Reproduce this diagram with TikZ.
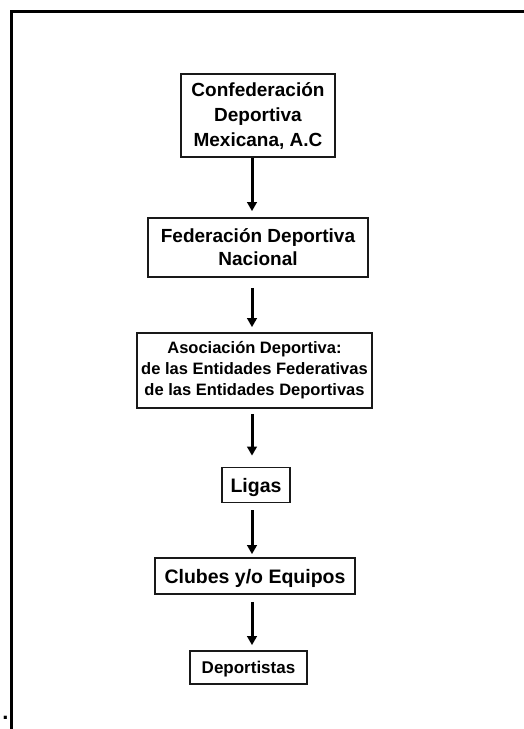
\documentclass[tikz,border=0pt]{standalone}
\usepackage{fontspec}
\setmainfont{Liberation Sans}
\usetikzlibrary{arrows.meta}
\tikzset{
  orgbox/.style={draw=black!90, line width=1.7pt, align=center, inner sep=0pt, font=\bfseries},
  onel/.style={text depth=0pt},
  arr/.style={line width=3pt, -{Triangle[length=9pt,width=9.5pt]}},
  frame/.style={line width=3.2pt, line join=miter}
}
\begin{document}
\begin{tikzpicture}[x=1pt,y=-1pt]
\useasboundingbox (0,0) rectangle (524,729);
\draw[frame] (11.3,729) -- (11.3,11.5) -- (524,11.5);
\node[font=\bfseries\fontsize{22}{22}\selectfont, inner sep=0pt] (dot) at (5.5,718) {.};
\coordinate (axis) at (252,0);
\node[orgbox, minimum width=154pt, minimum height=83pt, font=\bfseries\fontsize{19}{25}\selectfont] (b1) at (258,115.5) {Confederación\\Deportiva\\Mexicana, A.C};
\node[orgbox, minimum width=220pt, minimum height=59pt, font=\bfseries\fontsize{19}{23}\selectfont] (b2) at (258,247.5) {Federación Deportiva\\Nacional};
\node[orgbox, minimum width=235pt, minimum height=75pt, font=\bfseries\fontsize{16.5}{21}\selectfont] (b3) at (254.5,370.5) {Asociación Deportiva:\\de las Entidades Federativas\\de las Entidades Deportivas};
\node[orgbox, onel, minimum width=68pt, minimum height=35pt, font=\bfseries\fontsize{19.5}{19}\selectfont] (b4) at (256,485) {Ligas};
\node[orgbox, onel, minimum width=200pt, minimum height=36pt, font=\bfseries\fontsize{19.5}{19}\selectfont] (b5) at (255,576) {Clubes y/o Equipos};
\node[orgbox, onel, minimum width=117pt, minimum height=33pt, font=\bfseries\fontsize{17}{17}\selectfont] (b6) at (248.5,667.5) {Deportistas};
\draw[arr] (b1.south -| axis) -- ([yshift=6pt]b2.north -| axis);
\draw[arr] ([yshift=-10pt]b2.south -| axis) -- ([yshift=5pt]b3.north -| axis);
\draw[arr] ([yshift=-5pt]b3.south -| axis) -- ([yshift=11pt]b4.north -| axis);
\draw[arr] ([yshift=-7pt]b4.south -| axis) -- ([yshift=3pt]b5.north -| axis);
\draw[arr] ([yshift=-7pt]b5.south -| axis) -- ([yshift=5pt]b6.north -| axis);
\end{tikzpicture}
\end{document}
